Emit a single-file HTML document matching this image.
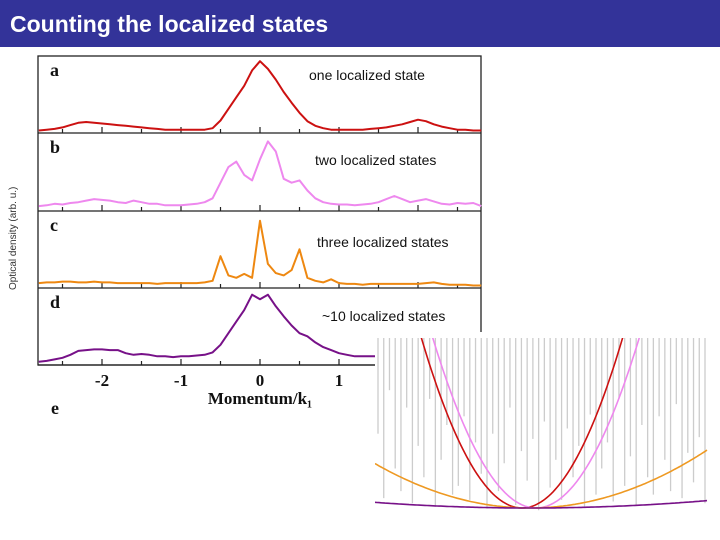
<!DOCTYPE html>
<html><head><meta charset="utf-8">
<style>
html,body{margin:0;padding:0;background:#fff;width:720px;height:540px;overflow:hidden}
svg{display:block}
</style></head>
<body>
<svg id="s" width="720" height="540" xmlns="http://www.w3.org/2000/svg">
<rect x="0" y="0" width="720" height="47" fill="#333399"/>
<text x="10" y="32" fill="#fff" font-family="Liberation Sans, sans-serif" font-weight="bold" font-size="23">Counting the localized states</text>
<g id="main"></g>
<g id="inset"></g>
</svg>
<script>
// momentum grid -2.8..2.8 step 0.1
const xStart = -2.8, xStep = 0.1;
const seriesA = [0.02,0.03,0.04,0.06,0.09,0.12,0.13,0.12,0.11,
 0.10,0.09,0.08,0.07,0.06,0.05,0.04,0.03,0.03,0.03,
 0.03,0.03,0.03,0.05,0.15,0.30,0.45,0.60,0.80,
 0.92,
 0.82,0.68,0.52,0.38,0.25,0.14,0.08,0.05,0.03,
 0.03,0.03,0.03,0.03,0.04,0.05,0.06,0.08,0.10,0.13,
 0.16,0.14,0.10,0.07,0.05,0.03,0.03,0.02,0.02];
const seriesB = [0.05,0.06,0.08,0.07,0.09,0.10,0.12,0.14,0.13,
 0.12,0.10,0.09,0.12,0.10,0.08,0.08,0.06,0.06,0.06,
 0.07,0.08,0.10,0.15,0.35,0.55,0.62,0.45,0.38,
 0.65,
 0.88,0.75,0.40,0.35,0.38,0.25,0.15,0.10,0.08,
 0.07,0.07,0.06,0.07,0.08,0.10,0.14,0.18,0.14,0.10,
 0.12,0.14,0.11,0.08,0.07,0.09,0.08,0.09,0.05];
const seriesC = [0.05,0.06,0.06,0.07,0.07,0.06,0.06,0.07,0.06,
 0.06,0.05,0.05,0.05,0.05,0.05,0.04,0.05,0.05,0.05,
 0.05,0.05,0.06,0.08,0.40,0.15,0.12,0.17,0.12,
 0.86,
 0.30,0.18,0.15,0.22,0.49,0.12,0.08,0.06,0.10,
 0.05,0.04,0.04,0.03,0.04,0.04,0.04,0.04,0.04,0.04,
 0.04,0.05,0.06,0.04,0.03,0.03,0.03,0.02,0.02];
const seriesD = [0.03,0.04,0.06,0.08,0.12,0.17,0.18,0.19,0.19,
 0.18,0.18,0.14,0.12,0.13,0.12,0.10,0.10,0.09,0.10,
 0.10,0.11,0.12,0.15,0.25,0.40,0.55,0.70,0.90,
 0.84,
 0.90,0.75,0.62,0.50,0.40,0.36,0.28,0.22,0.18,
 0.14,0.12,0.10,0.10,0.10,0.10,0.10,0.10,0.10,0.10,
 0.10,0.10,0.10,0.10,0.10,0.10,0.10,0.10,0.10];
const panelLetters = ['a','b','c','d'];
const panelTexts = ['one localized state','two localized states','three localized states','~10 localized states'];
const tickLabels = [-2,-1,0,1];
// inset: parabola curvatures (relative) and vertex offsets (x100 px)
const curveNames = ['red','pink','orange','purple'];
const curvature = [1.0, 0.95, 0.11, 0.014];
const vertexShift = [-0.08, 0.06, 0, 0];
const grayLens = [0.55,0.92,0.30,0.75,0.88,0.40,0.95,0.62,0.80,0.35,0.97,0.70,0.50,0.90,0.85,0.45,0.93,0.60,0.78,0.98,
 0.55,0.88,0.72,0.40,0.96,0.65,0.82,0.58,0.99,0.48,0.86,0.70,0.93,0.52,0.80,0.62,0.97,0.44,0.90,0.75,
 0.60,0.94,0.35,0.85,0.68,0.96,0.50,0.80,0.90,0.45,0.70,0.88,0.38,0.92,0.66,0.83,0.57,0.95];

const NS='http://www.w3.org/2000/svg';
function mk(tag, attrs, parent){const e=document.createElementNS(NS,tag);for(const k in attrs)e.setAttribute(k,attrs[k]);parent.appendChild(e);return e;}
const main=document.getElementById('main');
const L=38,R=481;
const xScale = m => 260 + m*79;
const panelTops=[56,133,211,288], panelH=[77,78,77,77];
const colors=['#cc1111','#ee88ee','#ee8811','#771188'];
const series=[seriesA,seriesB,seriesC,seriesD];
mk('rect',{x:L,y:56,width:R-L,height:309,fill:'none',stroke:'#222','stroke-width':1.3},main);
for(let p=0;p<4;p++){
  const top=panelTops[p], bot=top+panelH[p];
  const yScale = v => bot - 1 - v*panelH[p];
  const ax=mk('line',{x1:L,y1:bot,x2:R,y2:bot,stroke:'#222','stroke-width':1.3},main);
  
  
  for(let t=-2.5;t<=2.5;t+=0.5){
    const tk=mk('line',{x1:xScale(t),y1:bot,x2:xScale(t),y2:bot-(Number.isInteger(t)?6:4),stroke:'#222','stroke-width':1.2},main);
    
    
  }
  let d='';
  series[p].forEach((v,i)=>{const x=xScale(xStart+i*xStep);d+=(i?'L':'M')+x.toFixed(1)+','+yScale(v).toFixed(1);});
  const path=mk('path',{d:d,fill:'none',stroke:colors[p],'stroke-width':2,'stroke-linejoin':'round'},main);
  
  
  const lt=mk('text',{x:50,y:top+20,'font-family':'Liberation Serif, serif','font-weight':'bold','font-size':18,fill:'#111'},main);
  lt.textContent=panelLetters[p];
  
  
  const tt=mk('text',{x:[309,315,317,322][p],y:[80,165,247,321][p],'font-family':'Liberation Sans, sans-serif','font-size':14,fill:'#111'},main);
  tt.textContent=panelTexts[p];
  
  
}
tickLabels.forEach(t=>{
  const e=mk('text',{x:xScale(t),y:386,'text-anchor':'middle','font-family':'Liberation Serif, serif','font-weight':'bold','font-size':17,fill:'#111'},main);
  e.textContent=String(t);
  
  
});
const xt=mk('text',{x:260,y:404,'text-anchor':'middle','font-family':'Liberation Serif, serif','font-size':17,'font-weight':'bold',fill:'#111'},main);
xt.textContent='Momentum/k₁';


const el=mk('text',{x:51,y:414,'font-family':'Liberation Serif, serif','font-weight':'bold','font-size':18,fill:'#111'},main);
el.textContent='e';


const yt=mk('text',{x:0,y:0,transform:'translate(16,290) rotate(-90)','font-family':'Liberation Sans, sans-serif','font-size':10,fill:'#333'},main);
yt.textContent='Optical density (arb. u.)';



// inset
const inset=document.getElementById('inset');
const IL=375,IR=708,IT=338,IB=512;
mk('rect',{x:IL,y:IT-6,width:IR-IL+12,height:IB-IT+30,fill:'#fff'},inset);
mk('clipPath',{id:'ic'},inset).appendChild((()=>{const r=document.createElementNS(NS,'rect');r.setAttribute('x',IL);r.setAttribute('y',IT);r.setAttribute('width',IR-IL);r.setAttribute('height',IB-IT);return r;})());
const g=mk('g',{'clip-path':'url(#ic)'},inset);
grayLens.forEach((v,i)=>{
  const x=IL+3+i*(IR-IL-6)/(grayLens.length-1);
  const ln=mk('line',{x1:x,y1:IT,x2:x,y2:IT+v*(IB-IT),stroke:'#cccccc','stroke-width':1.3},g);
  
  
});
const vx=530, vy=508, k0=0.0168;
curveNames.forEach((n,c)=>{
  let d='';
  for(let x=IL;x<=IR;x+=2){const dx=x-vx-vertexShift[c]*100;const y=vy-k0*curvature[c]*dx*dx;d+=(x===IL?'M':'L')+x+','+y.toFixed(1);}
  const p=mk('path',{d:d,fill:'none',stroke:['#cc1111','#ee88ee','#ee9922','#771188'][c],'stroke-width':1.6},g);
  
  
});
</script>
</body></html>
